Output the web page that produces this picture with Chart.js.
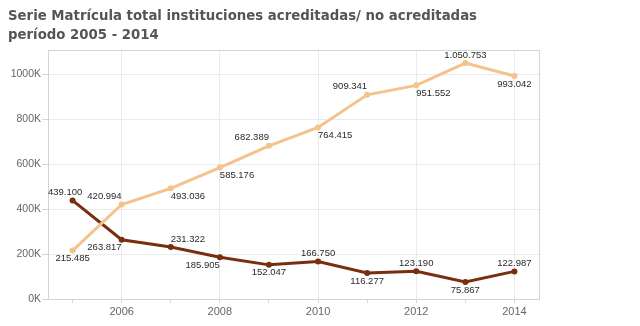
<!DOCTYPE html>
<html lang="es">
<head>
    <meta charset="UTF-8">
    <title>Serie Matrícula total</title>
    <script src="https://cdn.jsdelivr.net/npm/chart.js"></script>
    <style>
        html, body { margin: 0; padding: 0; background: #fff; }
        #wrap { width: 640px; height: 326px; }
    </style>
</head>
<body>
    <div id="wrap"><canvas id="matriculaChart" width="640" height="326"></canvas></div>
    <script>
        // datos
        const years = ["2005", "2006", "2007", "2008", "2009", "2010", "2011", "2012", "2013", "2014"];
        const acreditadas = [215485, 420994, 493036, 585176, 682389, 764415, 909341, 951552, 1050753, 993042];
        const noAcreditadas = [439100, 263817, 231322, 185905, 152047, 166750, 116277, 123190, 75867, 122987];
        const yTicks = [0, 200000, 400000, 600000, 800000, 1000000];

        // where each label sits relative to its point: [vertical, horizontal]
        const acredLabelPos = [["b", "c"], ["a", "r"], ["b", "l"], ["b", "l"], ["a", "r"], ["b", "l"], ["a", "r"], ["b", "l"], ["a", "c"], ["b", "c"]];
        const noAcredLabelPos = [["a", "r"], ["b", "r"], ["a", "l"], ["b", "r"], ["b", "c"], ["a", "c"], ["b", "c"], ["a", "c"], ["b", "c"], ["a", "c"]];

        function fmt(n) {
            return String(n).replace(/\B(?=(\d{3})+(?!\d))/g, ".");
        }

        const boxPlugin = {
            id: "plotBox",
            beforeDatasetsDraw(chart) {
                const a = chart.chartArea;
                const ctx = chart.ctx;
                ctx.save();
                ctx.strokeStyle = "#d4d4d4";
                ctx.lineWidth = 1;
                ctx.strokeRect(Math.round(a.left) + 0.5, Math.round(a.top) + 0.5, Math.round(a.right - a.left), Math.round(a.bottom - a.top));
                ctx.restore();
            }
        };

        const labelPlugin = {
            id: "pointLabels",
            afterDatasetsDraw(chart) {
                const ctx = chart.ctx;
                ctx.save();
                ctx.font = "9.5px 'Liberation Sans', Arial, sans-serif";
                ctx.fillStyle = "#2a2a2a";
                ctx.textBaseline = "middle";
                chart.data.datasets.forEach((ds, i) => {
                    const meta = chart.getDatasetMeta(i);
                    const pos = ds.labelPos;
                    meta.data.forEach((pt, j) => {
                        const p = pos[j];
                        const txt = fmt(ds.data[j]);
                        const w = ctx.measureText(txt).width;
                        let x = pt.x;
                        if (p[1] === "c") x = pt.x - w / 2;
                        else if (p[1] === "r") x = pt.x - w;
                        x = Math.max(chart.chartArea.left, Math.min(x, chart.chartArea.right - w));
                        const y = p[0] === "a" ? pt.y - 8 : pt.y + 8;
                        ctx.fillText(txt, x, y);
                    });
                });
                ctx.restore();
            }
        };

        new Chart(document.getElementById("matriculaChart"), {
            type: "line",
            data: {
                labels: years,
                datasets: [
                    {
                        label: "Acreditadas",
                        data: acreditadas,
                        labelPos: acredLabelPos,
                        borderColor: "#f5c28e",
                        backgroundColor: "#f5c28e",
                        borderWidth: 3,
                        pointRadius: 3,
                        pointBorderWidth: 0,
                        tension: 0
                    },
                    {
                        label: "No acreditadas",
                        data: noAcreditadas,
                        labelPos: noAcredLabelPos,
                        borderColor: "#7a2e10",
                        backgroundColor: "#7a2e10",
                        borderWidth: 3,
                        pointRadius: 3,
                        pointBorderWidth: 0,
                        tension: 0
                    }
                ]
            },
            options: {
                responsive: false,
                animation: false,
                layout: { padding: { left: 8, right: 101, top: 7, bottom: 0 } },
                plugins: {
                    legend: { display: false },
                    tooltip: { enabled: false },
                    title: {
                        display: true,
                        align: "start",
                        text: ["Serie Matrícula total instituciones acreditadas/ no acreditadas", "período 2005 - 2014"],
                        color: "#555",
                        font: { family: "'DejaVu Sans', Verdana, sans-serif", size: 13.3, weight: "bold", lineHeight: 1.45 },
                        padding: { top: 0, bottom: 4 }
                    }
                },
                scales: {
                    x: {
                        type: "category",
                        offset: true,
                        border: { display: false },
                        grid: {
                            offset: false,
                            color: c => (c.index % 2 === 1 ? "#ebebeb" : "rgba(0,0,0,0)"),
                            tickColor: "#d4d4d4",
                            tickLength: 4
                        },
                        ticks: {
                            autoSkip: false,
                            maxRotation: 0,
                            color: "#666",
                            padding: 2,
                            font: { family: "'Liberation Sans', Arial, sans-serif", size: 11 },
                            callback: function (v, i) { return i % 2 === 1 ? years[i] : ""; }
                        },
                        afterFit: s => { s.height = 27; }
                    },
                    y: {
                        min: 0,
                        max: 1111000,
                        border: { display: false },
                        grid: { color: "#ebebeb", tickColor: "#d4d4d4", tickLength: 6 },
                        afterBuildTicks: s => { s.ticks = yTicks.map(v => ({ value: v })); },
                        ticks: {
                            color: "#666",
                            padding: 1,
                            font: { family: "'Liberation Sans', Arial, sans-serif", size: 10.5 },
                            callback: v => (v / 1000) + "K"
                        },
                        afterFit: s => { s.width = 40; }
                    }
                }
            },
            plugins: [boxPlugin, labelPlugin]
        });
    </script>
</body>
</html>
